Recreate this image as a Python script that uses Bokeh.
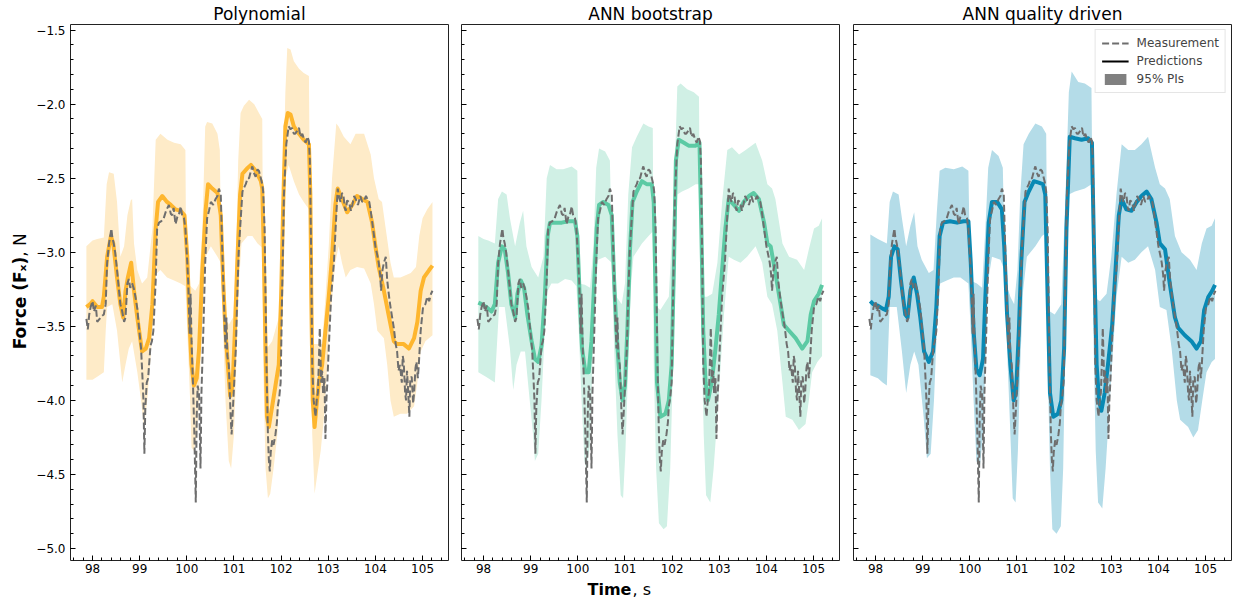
import math
from bokeh.plotting import figure
from bokeh.layouts import row, column
from bokeh.models import (Range1d, SingleIntervalTicker, CustomJSTickFormatter,
                          Legend, LegendItem)
from bokeh.core.properties import value
from bokeh.embed import file_html
from bokeh.resources import INLINE

FONT = "DejaVu Sans"
NAN = float("nan")

# ---------------- data ----------------
MEAS_T = [97.87, 97.90, 97.93, 97.96, 98.00, 98.03, 98.07, 98.10, 98.15, 98.20, 98.24, 98.28, 98.31, 98.35,
          98.40, 98.42, 98.45, 98.48, 98.52, 98.59, 98.63, 98.67, 98.70, 98.74, 98.77, 98.80, 98.84, 98.88,
          98.91, 98.95, 98.98, 99.03, 99.06, 99.08, 99.10, 99.12, 99.15, 99.18, 99.20, 99.23, 99.26, 99.29,
          99.34, 99.37, 99.41, 99.46, 99.51, 99.56, 99.62, 99.66, 99.69, 99.72, 99.76, 99.80, 99.83, 99.87,
          99.90, 99.94, 99.97, 100.01, 100.03, 100.06, 100.08, 100.10, 100.13, 100.16, 100.19, 100.21,
          100.23, 100.26, 100.29, 100.31, 100.35, 100.39, 100.43, 100.47, 100.51, 100.56, 100.61, 100.65,
          100.68, 100.72, 100.75, 100.79, 100.82, 100.84, 100.86, 100.89, 100.93, 100.95, 100.98, 101.01,
          101.04, 101.07, 101.10, 101.13, 101.18, 101.22, 101.25, 101.29, 101.32, 101.36, 101.39, 101.43,
          101.46, 101.50, 101.53, 101.57, 101.60, 101.62, 101.65, 101.67, 101.69, 101.72, 101.74, 101.76,
          101.78, 101.81, 101.84, 101.88, 101.91, 101.93, 101.96, 101.99, 102.02, 102.06, 102.11, 102.16,
          102.20, 102.23, 102.27, 102.30, 102.34, 102.38, 102.41, 102.45, 102.49, 102.52, 102.56, 102.59,
          102.61, 102.64, 102.66, 102.69, 102.73, 102.76, 102.78, 102.80, 102.82, 102.85, 102.87, 102.89,
          102.92, 102.94, 102.96, 102.98, 103.01, 103.06, 103.12, 103.17, 103.20, 103.23, 103.26, 103.29,
          103.32, 103.35, 103.37, 103.40, 103.44, 103.48, 103.51, 103.55, 103.58, 103.63, 103.68, 103.72,
          103.76, 103.80, 103.83, 103.87, 103.90, 103.95, 104.00, 104.04, 104.07, 104.10, 104.12, 104.15,
          104.18, 104.22, 104.25, 104.29, 104.32, 104.36, 104.39, 104.43, 104.46, 104.49, 104.52, 104.56,
          104.58, 104.60, 104.63, 104.65, 104.67, 104.69, 104.72, 104.74, 104.77, 104.80, 104.82, 104.85,
          104.87, 104.90, 104.92, 104.96, 105.01, 105.06, 105.10, 105.14, 105.18, 105.21]
MEAS_V = [-3.45, -3.52, -3.42, -3.37, -3.33, -3.40, -3.36, -3.47, -3.45, -3.43, -3.42, -3.35, -3.07, -2.94,
          -2.84, -2.90, -2.94, -3.00, -3.12, -3.35, -3.40, -3.47, -3.44, -3.21, -3.18, -3.24, -3.21, -3.25,
          -3.30, -3.38, -3.49, -3.65, -3.85, -4.00, -4.36, -4.05, -3.88, -3.85, -3.76, -3.63, -3.60, -3.53,
          -3.19, -2.84, -2.80, -2.79, -2.77, -2.72, -2.68, -2.74, -2.75, -2.70, -2.81, -2.76, -2.75, -2.69,
          -2.75, -2.77, -2.84, -3.07, -3.20, -3.55, -3.28, -3.60, -3.88, -4.23, -4.69, -4.10,
          -3.90, -3.95, -4.46, -3.95, -3.53, -3.07, -2.77, -2.72, -2.66, -2.68, -2.64, -2.62,
          -2.57, -2.61, -2.96, -3.37, -3.65, -3.44, -3.70, -3.76, -4.11, -4.23, -4.04, -3.85,
          -3.65, -3.30, -3.00, -2.84, -2.59, -2.56, -2.54, -2.50, -2.50, -2.45, -2.42, -2.47,
          -2.49, -2.44, -2.45, -2.50, -2.54, -2.59, -2.84, -3.30, -3.76, -4.23, -4.40, -4.48,
          -4.35, -4.27, -4.30, -4.23, -4.15, -4.04, -3.98, -3.88, -3.30, -2.61, -2.27, -2.15,
          -2.17, -2.16, -2.20, -2.20, -2.18, -2.16, -2.22, -2.20, -2.24, -2.26, -2.22, -2.25,
          -2.38, -3.07, -3.76, -4.00, -4.11, -3.98, -3.95, -3.75, -3.51, -3.88, -3.80, -3.95,
          -3.85, -4.26, -4.00, -3.88, -3.65, -3.30, -3.07, -2.75, -2.57, -2.63, -2.66, -2.60,
          -2.61, -2.70, -2.72, -2.65, -2.66, -2.72, -2.68, -2.62, -2.64, -2.68, -2.62, -2.66,
          -2.65, -2.62, -2.64, -2.66, -2.72, -2.84, -2.96, -3.02, -3.07, -3.15, -3.26, -3.12,
          -3.07, -3.03, -3.19, -3.30, -3.37, -3.45, -3.51, -3.62, -3.67, -3.80, -3.76, -3.88,
          -3.70, -3.74, -3.95, -4.00, -3.80, -3.91, -4.11, -3.85, -3.84, -4.02, -3.95, -3.78,
          -3.74, -3.85, -3.76, -3.53, -3.37, -3.35, -3.30, -3.33, -3.28, -3.26]

# Polynomial
POLY_PRED_T = [97.87, 97.95, 98.00, 98.10, 98.20, 98.24, 98.31, 98.39, 98.44, 98.52, 98.59, 98.65, 98.70, 98.75,
               98.82, 98.88, 98.95, 99.02, 99.05, 99.13, 99.20, 99.27, 99.34, 99.39, 99.48, 99.58, 99.66, 99.76,
               99.87, 99.95, 100.01, 100.06, 100.10, 100.15, 100.21, 100.26, 100.33, 100.40, 100.45, 100.54,
               100.65, 100.72, 100.77, 100.82, 100.87, 100.92, 100.97, 101.02, 101.07, 101.13, 101.18, 101.29,
               101.36, 101.46, 101.57, 101.60, 101.63, 101.67, 101.70, 101.74, 101.81, 101.88, 101.95, 102.00,
               102.04, 102.09, 102.14, 102.20, 102.27, 102.38, 102.48, 102.59, 102.62, 102.64, 102.67, 102.71,
               102.75, 102.80, 102.87, 102.94, 103.01, 103.08, 103.15, 103.20, 103.29, 103.40, 103.51, 103.61,
               103.72, 103.83, 103.93, 104.00, 104.07, 104.18, 104.29, 104.39, 104.46, 104.60, 104.71, 104.82,
               104.89, 104.96, 105.03, 105.14, 105.21]
POLY_PRED = [-3.37, -3.35, -3.33, -3.37, -3.37, -3.30, -3.03, -2.89, -2.94, -3.17, -3.35, -3.44, -3.26, -3.17,
             -3.07, -3.26, -3.44, -3.60, -3.67, -3.65, -3.58, -3.35, -2.84, -2.66, -2.62, -2.66, -2.68, -2.71,
             -2.72, -2.75, -3.03, -3.49, -3.76, -3.90, -3.85, -3.65, -3.12, -2.71, -2.54, -2.57,
             -2.60, -2.75, -3.19, -3.53, -3.76, -3.97, -3.90, -3.53, -3.07, -2.61, -2.47, -2.43,
             -2.41, -2.45, -2.52, -2.57, -2.96, -3.65, -4.11, -4.18, -4.04, -3.90, -3.76, -3.30,
             -2.73, -2.15, -2.06, -2.07, -2.15, -2.20, -2.24, -2.27, -2.61, -3.30, -4.00, -4.18,
             -4.04, -3.88, -3.76, -3.53, -3.30, -3.03, -2.68, -2.57, -2.64, -2.73, -2.68, -2.62,
             -2.64, -2.66, -2.80, -2.96, -3.10, -3.26, -3.44, -3.60, -3.62, -3.62, -3.65, -3.58,
             -3.47, -3.26, -3.17, -3.12, -3.09]
POLY_UP_T = [97.87, 98.00, 98.10, 98.24, 98.30, 98.35, 98.45, 98.52, 98.59, 98.67, 98.74, 98.81, 98.84, 98.88,
             98.95, 99.05, 99.16, 99.27, 99.34, 99.44, 99.59, 99.73, 99.87, 99.97, 99.99, 100.08, 100.18,
             100.26, 100.33, 100.39, 100.43, 100.54, 100.65, 100.70, 100.73, 100.82, 100.89, 100.98, 101.04,
             101.09, 101.14, 101.21, 101.32, 101.43, 101.53, 101.60, 101.62, 101.65, 101.81, 101.95, 102.02,
             102.09, 102.13, 102.20, 102.27, 102.38, 102.48, 102.59, 102.62, 102.66, 102.87, 102.94, 103.01,
             103.08, 103.17, 103.22, 103.33, 103.47, 103.58, 103.76, 103.90, 103.97, 104.07, 104.14, 104.21,
             104.32, 104.39, 104.53, 104.75, 104.86, 104.93, 105.00, 105.10, 105.21]
POLY_UP = [-2.96, -2.92, -2.91, -2.90, -2.54, -2.46, -2.47, -2.66, -3.03, -2.96, -2.75, -2.65, -2.64, -2.94,
           -3.12, -3.21, -3.17, -2.84, -2.24, -2.20, -2.24, -2.26, -2.27, -2.31, -3.21, -3.23, -3.26,
           -3.21, -2.84, -2.15, -2.12, -2.13, -2.20, -2.31, -3.07, -3.42, -3.49, -3.44, -3.07,
           -2.38, -2.06, -2.01, -1.97, -2.00, -2.06, -2.10, -3.20, -3.67, -3.60, -3.44, -2.84,
           -1.92, -1.62, -1.63, -1.71, -1.76, -1.79, -1.81, -3.00, -3.62, -3.62, -3.30, -2.96,
           -2.50, -2.13, -2.15, -2.22, -2.27, -2.20, -2.20, -2.34, -2.50, -2.64, -2.66, -2.82,
           -3.07, -3.17, -3.17, -3.14, -3.10, -2.89, -2.77, -2.71, -2.66]
POLY_LO_T = [97.87, 98.00, 98.10, 98.24, 98.28, 98.31, 98.42, 98.52, 98.63, 98.70, 98.77, 98.84, 98.95, 99.03,
             99.09, 99.16, 99.23, 99.29, 99.34, 99.44, 99.58, 99.73, 99.87, 99.97, 100.01, 100.07, 100.10,
             100.15, 100.22, 100.29, 100.35, 100.40, 100.51, 100.65, 100.72, 100.77, 100.82, 100.89, 100.94,
             101.00, 101.05, 101.11, 101.16, 101.29, 101.39, 101.50, 101.60, 101.62, 101.67, 101.72, 101.77,
             101.84, 101.92, 101.99, 102.04, 102.09, 102.16, 102.27, 102.38, 102.48, 102.59, 102.62, 102.66,
             102.71, 102.75, 102.84, 102.91, 102.98, 103.05, 103.15, 103.22, 103.29, 103.37, 103.47, 103.61,
             103.76, 103.90, 103.97, 104.04, 104.18, 104.25, 104.32, 104.39, 104.53, 104.67, 104.82, 104.89,
             104.96, 105.06, 105.21]
POLY_LO = [-3.86, -3.86, -3.84, -3.81, -3.53, -3.37, -3.35, -3.53, -3.88, -3.76, -3.65, -3.60, -3.81, -4.00,
           -4.18, -4.00, -3.72, -3.42, -3.15, -3.12, -3.17, -3.19, -3.21, -3.23, -3.53, -4.00, -4.32,
           -4.34, -4.23, -3.76, -3.19, -3.03, -2.96, -3.03, -3.07, -3.53, -4.00, -4.41, -4.46,
           -4.23, -3.76, -3.19, -2.94, -2.89, -2.89, -2.94, -2.97, -3.76, -4.46, -4.66, -4.63,
           -4.46, -4.23, -3.76, -3.07, -2.50, -2.41, -2.52, -2.61, -2.66, -2.71, -3.53, -4.23,
           -4.63, -4.54, -4.34, -4.11, -3.76, -3.42, -3.07, -2.96, -3.07, -3.17, -3.12, -3.10,
           -3.11, -3.21, -3.35, -3.53, -3.58, -3.76, -4.00, -4.11, -4.09, -4.09, -4.04, -3.88,
           -3.67, -3.60, -3.56]

# ANN bootstrap
BOOT_PRED_T = [97.89, 97.96, 98.06, 98.17, 98.24, 98.31, 98.39, 98.45, 98.52, 98.59, 98.67, 98.72, 98.79, 98.86,
               98.93, 99.02, 99.09, 99.16, 99.23, 99.30, 99.36, 99.41, 99.51, 99.66, 99.80, 99.94, 99.99,
               100.04, 100.09, 100.16, 100.23, 100.29, 100.35, 100.40, 100.45, 100.54, 100.65, 100.72, 100.77,
               100.82, 100.89, 100.95, 101.00, 101.05, 101.11, 101.16, 101.25, 101.36, 101.46, 101.57, 101.61,
               101.65, 101.68, 101.75, 101.86, 101.93, 101.99, 102.04, 102.08, 102.14, 102.25, 102.35, 102.50,
               102.58, 102.62, 102.66, 102.71, 102.76, 102.84, 102.92, 102.99, 103.06, 103.13, 103.20, 103.31,
               103.42, 103.52, 103.63, 103.73, 103.84, 103.95, 104.02, 104.09, 104.19, 104.30, 104.37, 104.48,
               104.62, 104.76, 104.87, 104.94, 105.01, 105.11, 105.18]
BOOT_PRED = [-3.34, -3.35, -3.37, -3.40, -3.35, -3.07, -2.96, -2.98, -3.14, -3.35, -3.44, -3.28, -3.19, -3.24,
             -3.42, -3.60, -3.72, -3.74, -3.63, -3.30, -2.89, -2.80, -2.80, -2.80, -2.79, -2.79, -2.89,
             -3.30, -3.65, -3.81, -3.81, -3.60, -3.19, -2.84, -2.68, -2.66, -2.68, -2.75, -3.19,
             -3.53, -3.88, -4.00, -3.90, -3.53, -2.96, -2.66, -2.59, -2.52, -2.54, -2.54, -2.66,
             -3.30, -3.88, -4.11, -4.09, -4.00, -3.76, -3.07, -2.38, -2.24, -2.26, -2.28, -2.28,
             -2.26, -2.84, -3.53, -3.88, -4.00, -3.88, -3.65, -3.42, -3.12, -2.84, -2.64, -2.68,
             -2.72, -2.66, -2.62, -2.60, -2.64, -2.80, -2.94, -2.96, -3.14, -3.35, -3.49, -3.53,
             -3.58, -3.65, -3.60, -3.42, -3.33, -3.28, -3.22]
BOOT_UP_T = [97.89, 98.00, 98.10, 98.24, 98.31, 98.39, 98.49, 98.56, 98.67, 98.77, 98.84, 98.91, 99.02, 99.16,
             99.27, 99.34, 99.41, 99.55, 99.69, 99.87, 99.99, 100.02, 100.15, 100.26, 100.33, 100.39, 100.45,
             100.58, 100.68, 100.73, 100.82, 100.93, 101.00, 101.07, 101.15, 101.25, 101.39, 101.50, 101.59,
             101.61, 101.75, 101.93, 102.04, 102.11, 102.18, 102.32, 102.46, 102.57, 102.60, 102.74, 102.85,
             102.96, 103.06, 103.17, 103.27, 103.42, 103.56, 103.77, 103.91, 104.02, 104.12, 104.19, 104.34,
             104.48, 104.65, 104.80, 104.90, 105.01, 105.11, 105.18]
BOOT_UP = [-2.89, -2.91, -2.92, -2.94, -2.64, -2.59, -2.61, -2.77, -2.96, -2.80, -2.72, -2.96, -3.10, -3.17,
           -3.03, -2.50, -2.41, -2.44, -2.44, -2.42, -2.45, -3.21, -3.22, -3.24, -2.96, -2.43, -2.30,
           -2.32, -2.38, -3.07, -3.30, -3.35, -3.21, -2.61, -2.29, -2.22, -2.13, -2.15, -2.16,
           -3.35, -3.39, -3.30, -2.61, -1.88, -1.86, -1.90, -1.92, -1.95, -3.30, -3.30, -3.28,
           -3.07, -2.66, -2.31, -2.29, -2.34, -2.31, -2.26, -2.38, -2.54, -2.57, -2.64, -2.94,
           -3.03, -3.05, -3.12, -2.98, -2.84, -2.82, -2.77]
BOOT_LO_T = [97.89, 98.05, 98.15, 98.24, 98.33, 98.45, 98.56, 98.63, 98.70, 98.79, 98.88, 98.98, 99.05, 99.09,
             99.16, 99.23, 99.30, 99.36, 99.44, 99.58, 99.73, 99.87, 99.97, 100.02, 100.08, 100.14, 100.18,
             100.26, 100.31, 100.36, 100.43, 100.58, 100.72, 100.77, 100.84, 100.91, 100.96, 101.01, 101.07,
             101.12, 101.18, 101.36, 101.50, 101.59, 101.61, 101.66, 101.72, 101.82, 101.89, 101.96, 102.04,
             102.11, 102.21, 102.35, 102.50, 102.58, 102.62, 102.67, 102.72, 102.81, 102.88, 102.96, 103.03,
             103.10, 103.20, 103.31, 103.45, 103.59, 103.77, 103.91, 104.02, 104.12, 104.23, 104.34, 104.41,
             104.55, 104.69, 104.83, 104.90, 104.97, 105.08, 105.18]
BOOT_LO = [-3.81, -3.84, -3.86, -3.88, -3.37, -3.37, -3.65, -3.93, -3.76, -3.67, -3.67, -4.00, -4.23, -4.41,
           -4.36, -4.00, -3.53, -3.26, -3.21, -3.21, -3.18, -3.19, -3.23, -3.53, -4.00, -4.41, -4.46,
           -4.30, -3.76, -3.30, -3.05, -3.03, -3.07, -3.65, -4.23, -4.64, -4.66, -4.34, -3.76,
           -3.26, -3.03, -2.94, -2.89, -2.86, -3.76, -4.46, -4.83, -4.87, -4.85, -4.46, -3.53,
           -2.61, -2.59, -2.57, -2.54, -2.54, -3.53, -4.23, -4.64, -4.69, -4.46, -4.11, -3.76,
           -3.42, -3.03, -3.05, -3.07, -3.03, -2.96, -3.07, -3.30, -3.35, -3.53, -3.88, -4.11,
           -4.13, -4.20, -4.16, -4.00, -3.81, -3.74, -3.70]

# ANN quality driven
QD_PRED_T = [97.89, 97.95, 98.05, 98.15, 98.22, 98.28, 98.33, 98.40, 98.47, 98.54, 98.63, 98.68, 98.74, 98.81,
             98.88, 98.95, 99.03, 99.13, 99.22, 99.29, 99.36, 99.43, 99.58, 99.73, 99.87, 99.97, 100.02,
             100.08, 100.14, 100.21, 100.28, 100.33, 100.40, 100.47, 100.58, 100.68, 100.73, 100.79, 100.86,
             100.93, 100.98, 101.04, 101.09, 101.16, 101.25, 101.36, 101.46, 101.55, 101.60, 101.65, 101.70,
             101.77, 101.87, 101.94, 102.00, 102.05, 102.12, 102.23, 102.37, 102.51, 102.59, 102.64, 102.69,
             102.74, 102.79, 102.86, 102.93, 103.02, 103.09, 103.16, 103.22, 103.32, 103.43, 103.54, 103.64,
             103.75, 103.85, 103.96, 104.03, 104.14, 104.24, 104.35, 104.42, 104.56, 104.70, 104.81, 104.90,
             104.97, 105.06, 105.14, 105.20]
QD_PRED = [-3.33, -3.35, -3.36, -3.38, -3.39, -3.30, -3.03, -2.96, -2.98, -3.19, -3.42, -3.44, -3.26, -3.17,
           -3.28, -3.44, -3.67, -3.74, -3.67, -3.37, -2.89, -2.80, -2.79, -2.80, -2.79, -2.79, -3.07,
           -3.53, -3.79, -3.83, -3.72, -3.30, -2.80, -2.66, -2.66, -2.71, -2.96, -3.42, -3.76,
           -4.00, -3.95, -3.53, -3.07, -2.66, -2.59, -2.52, -2.53, -2.54, -2.61, -3.30, -3.95,
           -4.11, -4.09, -4.00, -3.65, -2.84, -2.22, -2.23, -2.24, -2.23, -2.26, -3.07, -3.76,
           -4.00, -4.07, -3.95, -3.76, -3.49, -3.12, -2.75, -2.64, -2.71, -2.72, -2.66, -2.62,
           -2.59, -2.64, -2.80, -2.94, -2.98, -3.21, -3.44, -3.51, -3.56, -3.60, -3.65, -3.60,
           -3.39, -3.30, -3.26, -3.22]
QD_UP_T = [97.89, 98.05, 98.24, 98.30, 98.37, 98.49, 98.56, 98.65, 98.74, 98.82, 98.89, 98.98, 99.13, 99.23,
           99.30, 99.36, 99.48, 99.66, 99.84, 99.97, 100.01, 100.15, 100.26, 100.33, 100.39, 100.47, 100.61,
           100.70, 100.75, 100.86, 100.94, 101.01, 101.07, 101.14, 101.25, 101.39, 101.53, 101.62, 101.65,
           101.80, 101.94, 102.03, 102.10, 102.16, 102.30, 102.44, 102.58, 102.62, 102.76, 102.90, 103.00,
           103.11, 103.22, 103.36, 103.50, 103.64, 103.78, 103.93, 104.03, 104.14, 104.24, 104.35, 104.49,
           104.67, 104.81, 104.92, 105.02, 105.13, 105.20]
QD_UP = [-2.88, -2.91, -2.94, -2.66, -2.59, -2.61, -2.77, -2.96, -2.82, -2.73, -2.96, -3.05, -3.14, -3.12,
         -2.73, -2.45, -2.43, -2.44, -2.42, -2.45, -3.19, -3.21, -3.24, -2.84, -2.43, -2.31, -2.35,
         -2.43, -3.19, -3.30, -3.35, -3.12, -2.61, -2.27, -2.20, -2.13, -2.15, -2.20, -3.39,
         -3.42, -3.35, -2.61, -1.92, -1.78, -1.85, -1.86, -1.89, -3.30, -3.33, -3.28, -3.03,
         -2.61, -2.27, -2.31, -2.31, -2.27, -2.22, -2.43, -2.54, -2.57, -2.64, -2.89, -3.00,
         -3.05, -3.12, -2.94, -2.84, -2.82, -2.77]
QD_LO_T = [97.89, 98.05, 98.15, 98.24, 98.30, 98.45, 98.56, 98.65, 98.74, 98.82, 98.91, 99.02, 99.09, 99.17,
           99.24, 99.30, 99.37, 99.51, 99.66, 99.80, 99.97, 100.02, 100.08, 100.14, 100.21, 100.28, 100.33,
           100.39, 100.47, 100.65, 100.73, 100.79, 100.86, 100.91, 100.97, 101.02, 101.07, 101.13, 101.21,
           101.39, 101.53, 101.62, 101.65, 101.70, 101.75, 101.84, 101.93, 101.98, 102.03, 102.10, 102.23,
           102.44, 102.58, 102.62, 102.67, 102.72, 102.81, 102.88, 102.97, 103.04, 103.11, 103.22, 103.36,
           103.50, 103.64, 103.78, 103.93, 104.03, 104.17, 104.28, 104.39, 104.46, 104.63, 104.74, 104.84,
           104.93, 105.02, 105.13, 105.20]
QD_LO = [-3.83, -3.85, -3.88, -3.90, -3.37, -3.37, -3.67, -3.95, -3.76, -3.67, -3.76, -4.11, -4.39, -4.36,
         -4.00, -3.53, -3.21, -3.19, -3.17, -3.17, -3.21, -3.53, -4.00, -4.41, -4.46, -4.23, -3.76,
         -3.19, -3.03, -3.05, -3.12, -3.65, -4.23, -4.66, -4.69, -4.34, -3.76, -3.26, -3.03,
         -2.96, -2.89, -2.87, -3.76, -4.46, -4.87, -4.90, -4.85, -4.46, -3.53, -2.61, -2.59,
         -2.57, -2.54, -3.53, -4.34, -4.69, -4.73, -4.46, -4.00, -3.65, -3.30, -3.03, -3.07,
         -3.05, -3.00, -2.96, -3.12, -3.37, -3.39, -3.65, -4.00, -4.13, -4.18, -4.25, -4.20,
         -4.00, -3.81, -3.74, -3.72]

TITLES = ["Polynomial", "ANN bootstrap", "ANN quality driven"]
PRED_COLORS = ["#FEB62E", "#5CCAA4", "#0889B4"]
BAND_COLORS = ["#FEEBC8", "#D0F0E5", "#B4DCE8"]
MEAS_COLOR = "#6E6E6E"
LEGEND_LABELS = ["Measurement", "Predictions", "95% PIs"]
YLABEL_PARTS = ["Force (F\u2093)", ", N"]
XLABEL_PARTS = ["Time", ", s"]

PANELS = [
    (POLY_PRED_T, POLY_PRED, POLY_UP_T, POLY_UP, POLY_LO_T, POLY_LO),
    (BOOT_PRED_T, BOOT_PRED, BOOT_UP_T, BOOT_UP, BOOT_LO_T, BOOT_LO),
    (QD_PRED_T, QD_PRED, QD_UP_T, QD_UP, QD_LO_T, QD_LO),
]

X_RANGE = (97.533, 105.55)
Y_RANGE = (-5.081, -1.462)

# layout sizes (pixels)
FRAME_W, FRAME_H = 378, 536
TOP, BOTTOM = 22, 19
PANEL_H = TOP + FRAME_H + BOTTOM
YLAB_W = 33
XLAB_H = 20
BORDERS = [(35, 6), (7, 7), (7, 1)]
TOTAL_W = YLAB_W + sum(l + FRAME_W + r for l, r in BORDERS)


def bare_figure(w, h):
    f = figure(width=w, height=h, output_backend="svg", toolbar_location=None, title=None,
               x_range=Range1d(0, w), y_range=Range1d(0, h),
               x_axis_type=None, y_axis_type=None, min_border=0,
               background_fill_color="white", border_fill_color="white")
    f.outline_line_color = None
    f.xgrid.visible = False
    f.ygrid.visible = False
    return f


# y label figure (rotated text, bold + normal parts)
ylab = bare_figure(YLAB_W, PANEL_H)
y_start = PANEL_H - 351
ylab.text(x=[19], y=[y_start], text=[YLABEL_PARTS[0]], angle=math.pi / 2,
          text_font=value(FONT), text_font_size="17px", text_font_style="bold",
          text_align="left", text_baseline="middle", text_color="black")
ylab.text(x=[19], y=[y_start + 100], text=[YLABEL_PARTS[1]], angle=math.pi / 2,
          text_font=value(FONT), text_font_size="17px", text_font_style="normal",
          text_align="left", text_baseline="middle", text_color="black")

figs = []
for i, (pt, pv, ut, uv, lt, lv) in enumerate(PANELS):
    left, right = BORDERS[i]
    p = figure(frame_width=FRAME_W, frame_height=FRAME_H, output_backend="svg", toolbar_location=None,
               x_range=Range1d(*X_RANGE), y_range=Range1d(*Y_RANGE),
               min_border_left=left, min_border_right=right, min_border_top=TOP, min_border_bottom=BOTTOM,
               background_fill_color="white", border_fill_color="white")
    p.title.text = TITLES[i]
    p.title.align = "center"
    p.title.text_font = FONT
    p.title.text_font_size = "17px"
    p.title.text_font_style = "normal"
    p.title.text_color = "black"
    p.title.standoff = 2
    p.title.offset = 0
    p.xgrid.visible = False
    p.ygrid.visible = False
    p.outline_line_color = "#222222"
    p.outline_line_width = 1
    p.outline_line_alpha = 1

    # band
    p.patch(x=list(ut) + list(lt)[::-1], y=list(uv) + list(lv)[::-1],
            fill_color=BAND_COLORS[i], line_color=None)
    # prediction
    p.line(pt, pv, line_color=PRED_COLORS[i], line_width=4, line_join="round")
    # measurement
    meas = p.line(MEAS_T, MEAS_V, line_color=MEAS_COLOR, line_width=2, line_dash="7 3")

    for ax in (p.xaxis[0], p.yaxis[0]):
        ax.axis_line_color = None
        ax.major_tick_in = 5
        ax.major_tick_out = 0
        ax.minor_tick_in = 3
        ax.minor_tick_out = 0
        ax.major_tick_line_color = "black"
        ax.minor_tick_line_color = "black"
        ax.major_label_text_font = FONT
        ax.major_label_text_font_size = "12px"
        ax.major_label_text_color = "black"
    p.xaxis.ticker = SingleIntervalTicker(interval=1, num_minor_ticks=5)
    p.yaxis.ticker = SingleIntervalTicker(interval=0.5, num_minor_ticks=5)
    p.xaxis.major_label_standoff = 3
    if i == 0:
        p.yaxis.formatter = CustomJSTickFormatter(code="return tick.toFixed(1).replace('-', '\u2212');")
        p.yaxis.major_label_standoff = 5
    else:
        p.yaxis.formatter = CustomJSTickFormatter(code="return '';")
        p.yaxis.major_label_standoff = 0
    if i == 2:
        pred_proxy = p.line(x=[NAN, NAN], y=[NAN, NAN], line_color="black", line_width=2)
        band_proxy = p.quad(left=[NAN], right=[NAN], top=[NAN], bottom=[NAN],
                            fill_color="#808080", line_color=None)
        legend = Legend(items=[LegendItem(label=LEGEND_LABELS[0], renderers=[meas]),
                               LegendItem(label=LEGEND_LABELS[1], renderers=[pred_proxy]),
                               LegendItem(label=LEGEND_LABELS[2], renderers=[band_proxy])],
                        location="top_right", margin=5, padding=6, spacing=4,
                        label_text_font=FONT, label_text_font_size="12px",
                        label_height=14, glyph_height=14, glyph_width=27, label_standoff=8,
                        border_line_color="#CCCCCC", border_line_width=1,
                        background_fill_alpha=0.85)
        p.add_layout(legend)
    figs.append(p)

# x label figure (bold + normal parts), centred under the whole figure
xlab = bare_figure(TOTAL_W, XLAB_H)
xlab.text(x=[587], y=[XLAB_H / 2], text=[XLABEL_PARTS[0]], text_font=value(FONT), text_font_size="16px",
          text_font_style="bold", text_align="left", text_baseline="middle", text_color="black")
xlab.text(x=[632], y=[XLAB_H / 2], text=[XLABEL_PARTS[1]], text_font=value(FONT), text_font_size="16px",
          text_font_style="normal", text_align="left", text_baseline="middle", text_color="black")

layout = column(row(ylab, *figs), xlab)
open("out.html", "w").write(file_html(layout, INLINE))
